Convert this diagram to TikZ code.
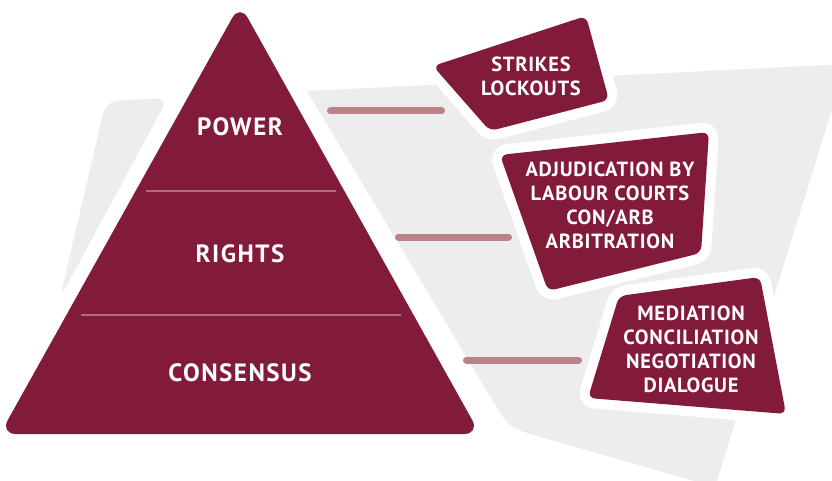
\documentclass[tikz,border=0pt]{standalone}
\usepackage{fontspec}
\setmainfont{PT Sans}
\definecolor{maroon}{HTML}{821A3A}
\definecolor{barpink}{HTML}{BA8388}
\definecolor{lineplum}{HTML}{AE6E7E}
\definecolor{bggray}{HTML}{EDEDED}
\begin{document}
\begin{tikzpicture}[x=1pt, y=-1pt,
	level/.style={text=white, font=\fontsize{25}{30}\selectfont\bfseries\addfontfeature{LetterSpace=6}},
	item/.style={text=white, align=center, font=\fontsize{20.5}{24}\selectfont\bfseries\addfontfeature{LetterSpace=3.5}},
	panel/.style={fill=maroon, rounded corners=7pt, preaction={draw=white, line width=20pt, line join=round}},
	bar/.style={draw=barpink, line width=7pt, line cap=round}]
	\useasboundingbox (0, 0) rectangle (832, 481);
	\clip (0, 0) rectangle (832, 481);
	\fill[bggray, rounded corners=12pt] (137, 99.5) -- (168, 98) -- (60, 298) -- (106, 101) -- cycle;
	\fill[bggray] (307, 91) -- (846, 64) -- (715, 487) -- (542.6, 437.6) .. controls (509, 428) .. (491, 398) -- cycle;
	\fill[maroon, rounded corners=16pt] (240, 434) -- (480, 434) -- (240, 4) -- (0, 434) -- cycle;
	\draw[lineplum, line width=2pt] (146, 191) -- (336, 191);
	\draw[lineplum, line width=2pt] (81, 315) -- (401, 315);
	\node[level] (power) at (240, 127) {POWER};
	\node[level] (rights) at (240, 254) {RIGHTS};
	\node[level] (consensus) at (240, 373) {CONSENSUS};
	\fill[panel] (509.5, 41) -- (586, 16) -- (609, 100) -- (490, 131) -- (433, 66) -- cycle;
	\fill[panel] (604.5, 143.5) -- (709, 132) -- (701, 253) -- (548, 291) -- (500, 155) -- cycle;
	\fill[panel] (689.5, 286.5) -- (760, 277) -- (786, 414) -- (588, 398) -- (619, 296) -- cycle;
	\node[item] (strikes) at (531, 76) {STRIKES\\LOCKOUTS};
	\node[item] (adjudication) at (610, 205) {ADJUDICATION BY\\LABOUR COURTS\\CON/ARB\\ARBITRATION};
	\node[item] (mediation) at (691, 349) {MEDIATION\\CONCILIATION\\NEGOTIATION\\DIALOGUE};
	\coordinate (powerbar) at (330.5, 111);
	\coordinate (strikesbar) at (441.5, 111);
	\coordinate (rightsbar) at (398.5, 237);
	\coordinate (adjudicationbar) at (508.5, 237);
	\coordinate (consensusbar) at (466.5, 360);
	\coordinate (mediationbar) at (578.5, 360);
	\draw[bar] (powerbar) -- (strikesbar);
	\draw[bar] (rightsbar) -- (adjudicationbar);
	\draw[bar] (consensusbar) -- (mediationbar);
\end{tikzpicture}
\end{document}
